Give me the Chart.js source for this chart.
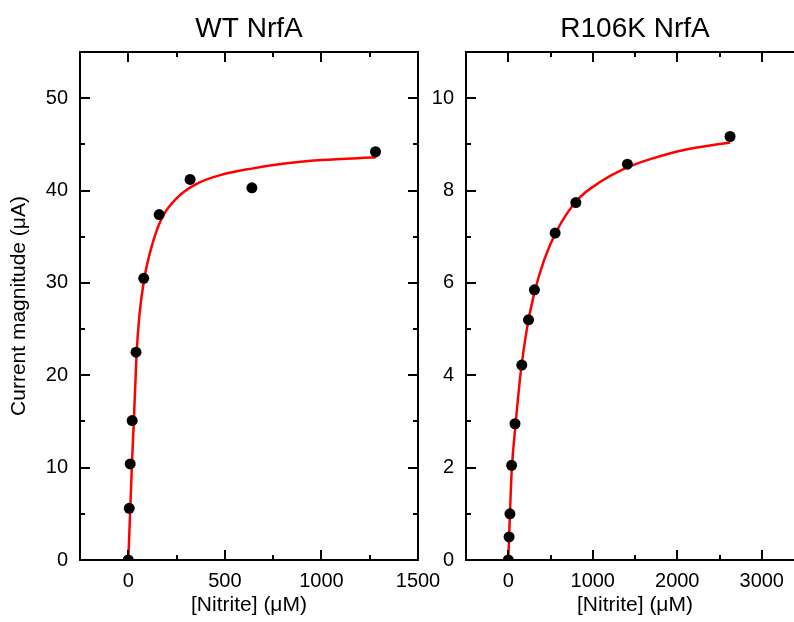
<!DOCTYPE html>
<html>
<head>
<meta charset="utf-8">
<script src="https://cdn.jsdelivr.net/npm/chart.js@4.4.1/dist/chart.umd.min.js"></script>
<style>
    html, body { margin: 0; padding: 0; background: #fff; overflow: hidden; width: 794px; height: 622px; }
    #cajaWT { position: absolute; left: 0; top: 0; }
    #cajaR106K { position: absolute; left: 430px; top: 0; }
</style>
</head>
<body>
<div id="cajaWT"><canvas id="graficoWT" width="460" height="622"></canvas></div>
<div id="cajaR106K"><canvas id="graficoR106K" width="400" height="622"></canvas></div>
<script>
// Datos (nitrito en µM, corriente en µA)
const wtNitrito = [0, 5, 10, 20, 40, 80, 160, 320, 640, 1280];
const wtCorriente = [0, 5.6, 10.4, 15.1, 22.5, 30.5, 37.4, 41.2, 40.3, 44.2];
const wtAjusteX = [0, 10, 19, 29, 43, 58, 84, 119, 171, 257, 361, 481, 645, 800, 1000, 1284];
const wtAjusteY = [0, 5.4, 10.4, 15.2, 22.3, 26.6, 30.6, 33.8, 36.9, 39.3, 40.8, 41.7, 42.4, 42.9, 43.3, 43.6];
const wtTicksX = [0, 500, 1000, 1500];
const wtTicksY = [0, 10, 20, 30, 40, 50];

const r106kNitrito = [0, 10, 20, 40, 80, 160, 240, 310, 555, 800, 1410, 2625];
const r106kCorriente = [0, 0.5, 1.0, 2.05, 2.95, 4.22, 5.2, 5.85, 7.08, 7.74, 8.57, 9.17];
const r106kAjusteX = [0, 10, 20, 40, 90, 150, 220, 300, 425, 580, 820, 1100, 1370, 1680, 2080, 2626];
const r106kAjusteY = [0, 0.5, 1.0, 1.9, 3.0, 4.1, 5.0, 5.72, 6.5, 7.15, 7.8, 8.2, 8.47, 8.68, 8.88, 9.04];
const r106kTicksX = [0, 1000, 2000, 3000];
const r106kTicksY = [0, 2, 4, 6, 8, 10];

const fuente = "'Liberation Sans', Arial, sans-serif";
Chart.defaults.font.family = fuente;
Chart.defaults.color = '#000';

// Marco con marcas mayores y menores hacia adentro en los cuatro lados
const marcoEjes = {
    id: 'marcoEjes',
    afterDatasetsDraw(chart, args, opts) {
        const { ctx, chartArea: a, scales: { x, y } } = chart;
        ctx.save();
        ctx.strokeStyle = '#000';
        ctx.lineWidth = 2;
        ctx.strokeRect(a.left, a.top, a.right - a.left, a.bottom - a.top);
        ctx.beginPath();
        const esMayor = (v, paso) => Math.abs(v / paso - Math.round(v / paso)) < 1e-6;
        for (let v = Math.ceil(x.min / opts.xMenor) * opts.xMenor; v <= x.max + 1e-9; v += opts.xMenor) {
            const px = Math.round(x.getPixelForValue(v));
            const largo = esMayor(v, opts.xMayor) ? 10 : 5;
            ctx.moveTo(px, a.bottom); ctx.lineTo(px, a.bottom - largo);
            ctx.moveTo(px, a.top); ctx.lineTo(px, a.top + largo);
        }
        for (let v = Math.ceil(y.min / opts.yMenor) * opts.yMenor; v <= y.max + 1e-9; v += opts.yMenor) {
            const py = Math.round(y.getPixelForValue(v));
            const largo = esMayor(v, opts.yMayor) ? 10 : 5;
            ctx.moveTo(a.left, py); ctx.lineTo(a.left + largo, py);
            ctx.moveTo(a.right, py); ctx.lineTo(a.right - largo, py);
        }
        ctx.stroke();
        ctx.restore();
    }
};

const crearGrafico = (id, cfg) => {
    const puntos = cfg.nitrito.map((n, i) => ({ x: n, y: cfg.corriente[i] }));
    const ajuste = cfg.ajusteX.map((n, i) => ({ x: n, y: cfg.ajusteY[i] }));
    return new Chart(document.getElementById(id), {
        type: 'scatter',
        data: {
            datasets: [{
                label: 'Datos',
                data: puntos,
                pointRadius: 5.5,
                pointBackgroundColor: '#000',
                pointBorderWidth: 0,
                clip: 0
            }, {
                label: 'Ajuste',
                type: 'line',
                data: ajuste,
                borderColor: '#ff0000',
                borderWidth: 2.5,
                pointRadius: 0,
                fill: false,
                cubicInterpolationMode: 'monotone',
                clip: 0
            }]
        },
        options: {
            responsive: false,
            animation: false,
            layout: { padding: { left: 0, right: cfg.padDerecha, top: 0, bottom: 0 } },
            plugins: {
                legend: { display: false },
                tooltip: { enabled: false },
                title: {
                    display: true,
                    text: cfg.titulo,
                    fullSize: false,
                    color: '#000',
                    font: { size: 28, weight: 'normal', family: fuente },
                    padding: { top: 12, bottom: 6.4 }
                },
                marcoEjes: cfg.marcas
            },
            scales: {
                x: {
                    type: 'linear',
                    min: cfg.xMin,
                    max: cfg.xMax,
                    grid: { display: false, drawTicks: false },
                    border: { display: false },
                    afterBuildTicks: (s) => { s.ticks = cfg.ticksX.map(v => ({ value: v })); },
                    ticks: { padding: 9, font: { size: 20 }, color: '#000', autoSkip: false, maxRotation: 0, callback: (v) => String(v) },
                    title: { display: true, text: '[Nitrite] (μM)', font: { size: 21 }, color: '#000', padding: { top: 0, bottom: 4 } },
                    afterFit: (s) => { s.height = 62; s.paddingLeft = 0; s.paddingRight = 0; }
                },
                y: {
                    min: 0,
                    max: cfg.yMax,
                    grid: { display: false, drawTicks: false },
                    border: { display: false },
                    afterBuildTicks: (s) => { s.ticks = cfg.ticksY.map(v => ({ value: v })); },
                    ticks: { padding: 12, font: { size: 20 }, color: '#000', autoSkip: false, callback: (v) => String(v) },
                    title: { display: !!cfg.tituloY, text: cfg.tituloY, font: { size: 21 }, color: '#000', padding: { top: 7, bottom: 0 } },
                    afterFit: (s) => { s.width = cfg.anchoY; s.paddingTop = 0; s.paddingBottom = 0; }
                }
            }
        },
        plugins: [marcoEjes]
    });
};

crearGrafico('graficoWT', {
    titulo: 'WT NrfA',
    tituloY: 'Current magnitude (μA)',
    nitrito: wtNitrito, corriente: wtCorriente,
    ajusteX: wtAjusteX, ajusteY: wtAjusteY,
    ticksX: wtTicksX, ticksY: wtTicksY,
    xMin: -250, xMax: 1500, yMax: 55,
    anchoY: 80, padDerecha: 42,
    marcas: { xMayor: 500, xMenor: 250, yMayor: 10, yMenor: 5 }
});

crearGrafico('graficoR106K', {
    titulo: 'R106K NrfA',
    tituloY: '',
    nitrito: r106kNitrito, corriente: r106kCorriente,
    ajusteX: r106kAjusteX, ajusteY: r106kAjusteY,
    ticksX: r106kTicksX, ticksY: r106kTicksY,
    xMin: -500, xMax: 3500, yMax: 11,
    anchoY: 36, padDerecha: 26,
    marcas: { xMayor: 1000, xMenor: 500, yMayor: 2, yMenor: 1 }
});
</script>
</body>
</html>
